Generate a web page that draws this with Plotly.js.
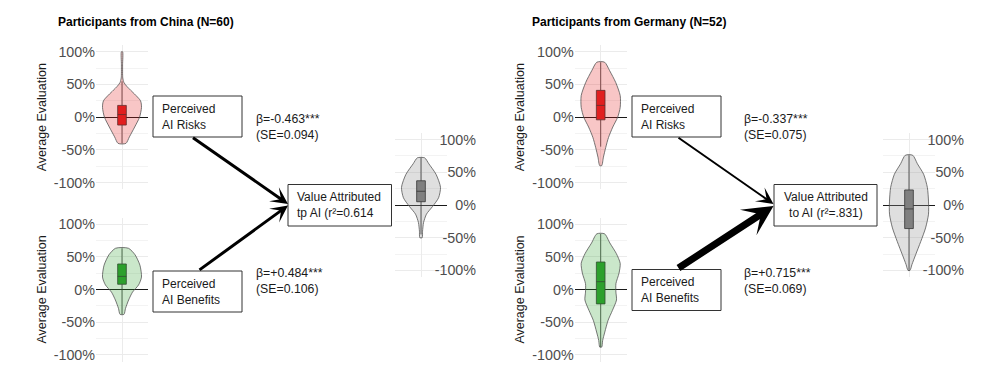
<!DOCTYPE html>
<html>
<head>
<meta charset="utf-8">
<script src="https://cdn.plot.ly/plotly-3.0.1.min.js"></script>
<style>
  html, body { margin: 0; padding: 0; background: #fff; }
  #plot { width: 997px; height: 389px; }
</style>
</head>
<body>
<div id="plot"></div>
<script>
// Ejes (valores en proporción, 1 = 100%)
const ticksValores = [-1, -0.5, 0, 0.5, 1];
const ticksTexto = ['-100%', '-50%', '0%', '50%', '100%'];
const ticksMenores = [-0.75, -0.25, 0.25, 0.75];

const titulos = ['Participants from China (N=60)', 'Participants from Germany (N=52)'];

// Perfiles de los violines: nivel y ancho relativo de la densidad
const riesgoCnNivel = [-0.40, -0.30, -0.15, 0.00, 0.15, 0.25, 0.41, 0.47, 0.53, 0.60, 0.80, 1.00];
const riesgoCnAncho = [0.20, 0.38, 0.65, 0.90, 1.00, 0.95, 0.45, 0.25, 0.10, 0.04, 0.03, 0.03];
const beneficioCnNivel = [-0.38, -0.29, -0.16, -0.04, 0.07, 0.19, 0.37, 0.53, 0.63];
const beneficioCnAncho = [0.10, 0.18, 0.34, 0.54, 0.85, 1.00, 0.92, 0.67, 0.33];
const valorCnNivel = [-0.50, -0.40, -0.27, -0.14, -0.02, 0.11, 0.27, 0.47, 0.63, 0.72];
const valorCnAncho = [0.06, 0.08, 0.13, 0.28, 0.60, 0.90, 1.00, 0.77, 0.40, 0.19];
const riesgoDeNivel = [-0.74, -0.61, -0.46, -0.31, -0.15, 0.00, 0.15, 0.33, 0.53, 0.71, 0.84];
const riesgoDeAncho = [0.05, 0.14, 0.26, 0.40, 0.62, 0.87, 1.00, 1.00, 0.77, 0.46, 0.20];
const beneficioDeNivel = [-0.88, -0.78, -0.65, -0.47, -0.32, -0.16, -0.04, 0.09, 0.25, 0.40, 0.55, 0.71, 0.85];
const beneficioDeAncho = [0.05, 0.10, 0.21, 0.38, 0.60, 0.81, 0.78, 0.78, 0.94, 1.00, 0.80, 0.47, 0.20];
const valorDeNivel = [-1.00, -0.91, -0.76, -0.56, -0.35, -0.14, 0.06, 0.27, 0.47, 0.63, 0.76];
const valorDeAncho = [0.05, 0.15, 0.34, 0.60, 0.85, 1.00, 1.00, 0.94, 0.75, 0.43, 0.19];

// Cajas (orden: riesgo CN, beneficio CN, valor CN, riesgo DE, beneficio DE, valor DE)
const cajaMin = [-0.40, -0.38, -0.45, -0.45, -0.88, -1.00];
const cajaQ1 = [-0.12, 0.08, 0.05, -0.04, -0.22, -0.36];
const cajaMediana = [0.04, 0.20, 0.21, 0.18, 0.12, -0.06];
const cajaQ3 = [0.18, 0.39, 0.37, 0.41, 0.42, 0.23];
const cajaMax = [0.55, 0.63, 0.72, 0.84, 0.85, 0.76];

// Modelo (orden: riesgo CN, beneficio CN, riesgo DE, beneficio DE)
const betas = [-0.463, 0.484, -0.337, 0.715];
const errores = [0.094, 0.106, 0.075, 0.069];
const nodosTexto = ['Perceived<br>AI Risks', 'Perceived<br>AI Benefits', 'Value Attributed<br>tp AI (r²=0.614',
                    'Perceived<br>AI Risks', 'Perceived<br>AI Benefits', 'Value Attributed<br>to AI (r²=.831)'];

// Estilo
const fuente = 'Liberation Sans, Arial, Helvetica, sans-serif';
const rellenos = ['rgba(227,26,28,0.25)', 'rgba(44,160,44,0.25)', 'rgba(150,150,150,0.3)'];
const cajasColor = ['#e02020', '#2ca02c', '#808080'];
const flechaAncho = [3, 3, 2, 7];
const flechaPunta = [0.95, 0.95, 1.4, 0.72];

const px = x => x / 997;
const py = y => 1 - y / 389;

// Posición de cada panel en píxeles [x0, x1, y0, y1]
const paneles = [
  [96, 148, 45.2, 189.2], [96, 148, 217.5, 361.5], [395, 447, 133, 277],
  [574.7, 626.7, 45.2, 189.2], [574.7, 626.7, 217.5, 361.5], [883, 935, 133, 277]
];
const perfiles = [
  [riesgoCnNivel, riesgoCnAncho], [beneficioCnNivel, beneficioCnAncho], [valorCnNivel, valorCnAncho],
  [riesgoDeNivel, riesgoDeAncho], [beneficioDeNivel, beneficioDeAncho], [valorDeNivel, valorDeAncho]
];

const violin = (nivel, ancho, n, relleno) => {
  const xs = ancho.map(a => a * 0.45).concat(ancho.slice().reverse().map(a => -a * 0.45));
  const ys = nivel.concat(nivel.slice().reverse());
  xs.push(xs[0]);
  ys.push(ys[0]);
  return {
    type: 'scatter', mode: 'lines', x: xs, y: ys, fill: 'toself', fillcolor: relleno,
    line: { color: '#555', width: 0.8, shape: 'spline', smoothing: 0.7 },
    xaxis: 'x' + n, yaxis: 'y' + n, hoverinfo: 'skip', showlegend: false
  };
};

const data = [];
const layout = {
  width: 997, height: 389,
  margin: { l: 0, r: 0, t: 0, b: 0 },
  paper_bgcolor: '#fff', plot_bgcolor: '#fff',
  font: { family: fuente, color: '#1a1a1a' },
  showlegend: false,
  shapes: [], annotations: []
};

paneles.forEach((p, i) => {
  const n = i + 1;
  const tipo = i % 3;
  const esValor = tipo === 2;
  data.push(violin(perfiles[i][0], perfiles[i][1], n, rellenos[tipo]));
  data.push({
    type: 'box', x: [0], q1: [cajaQ1[i]], median: [cajaMediana[i]], q3: [cajaQ3[i]],
    lowerfence: [cajaMin[i]], upperfence: [cajaMax[i]], width: 0.2, whiskerwidth: 0,
    fillcolor: cajasColor[tipo], line: { color: '#333', width: 0.8 }, boxpoints: false,
    xaxis: 'x' + n, yaxis: esValor ? 'y' + (i === 2 ? 7 : 8) : 'y' + n,
    hoverinfo: 'skip', showlegend: false
  });
  layout['xaxis' + n] = {
    domain: [px(p[0]), px(p[1])], range: [-0.6, 0.6], anchor: 'y' + n,
    tickvals: [0], showticklabels: false, showgrid: true, gridcolor: '#ebebeb',
    zeroline: false, showline: false, ticks: '', fixedrange: true
  };
  layout['yaxis' + n] = {
    domain: [py(p[3]), py(p[2])], range: [-1.1, 1.1], anchor: 'x' + n,
    tickvals: ticksValores, ticktext: ticksTexto, showticklabels: !esValor,
    tickfont: { size: 14.3, color: '#4d4d4d' },
    showgrid: true, gridcolor: '#ebebeb', gridwidth: 1,
    minor: { tickvals: ticksMenores, showgrid: true, gridcolor: '#f3f3f3', ticks: '' },
    zeroline: true, zerolinecolor: '#1a1a1a', zerolinewidth: 1,
    ticks: '', showline: false, fixedrange: true,
    title: esValor ? { text: '' } : { text: 'Average Evaluation', font: { size: 12.5, color: '#1a1a1a' }, standoff: 4 }
  };
  if (esValor) {
    // Eje de etiquetas a la derecha, alineadas a la derecha
    layout['yaxis' + (i === 2 ? 7 : 8)] = {
      overlaying: 'y' + n, side: 'right', anchor: 'free', position: px(p[1] + 32),
      ticklabelposition: 'inside', ticklabeloverflow: 'allow', range: [-1.1, 1.1],
      tickvals: ticksValores, ticktext: ticksTexto,
      tickfont: { size: 14.3, color: '#4d4d4d' },
      showgrid: false, zeroline: false, showline: false, ticks: '', fixedrange: true
    };
  }
});

// Títulos de los paneles
[56, 530].forEach((x, k) => {
  layout.annotations.push({
    text: '<b>' + titulos[k] + '</b>', xref: 'paper', yref: 'paper', x: px(x), y: py(22),
    xanchor: 'left', yanchor: 'middle', showarrow: false, font: { size: 12, color: '#000' }
  });
});

// Nodos del diagrama [x0, x1, y0, y1] en píxeles
const nodos = [
  [153, 242, 96, 137], [153, 242, 271, 312], [288, 391.5, 184.5, 226],
  [632, 721, 96, 137], [632, 721, 269.5, 310.5], [774, 877, 184.5, 226]
];
nodos.forEach((b, i) => {
  layout.shapes.push({
    type: 'rect', xref: 'paper', yref: 'paper', x0: px(b[0]), x1: px(b[1]), y0: py(b[3]), y1: py(b[2]),
    line: { color: '#333', width: 1 }, fillcolor: '#fff', layer: 'above'
  });
  const centrado = i === 5;
  layout.annotations.push({
    text: nodosTexto[i], xref: 'paper', yref: 'paper',
    x: centrado ? px((b[0] + b[1]) / 2) : px(b[0] + 8), y: py((b[2] + b[3]) / 2),
    xanchor: centrado ? 'center' : 'left', yanchor: 'middle', align: centrado ? 'center' : 'left',
    showarrow: false, borderpad: 0, font: { size: 12, color: '#1a1a1a' }
  });
});

// Coeficientes y flechas
const coefPos = [[255, 126.7], [255, 281], [742.5, 126.7], [742.5, 281]];
const flechas = [
  [191.5, 136.7, 288, 204], [198, 271, 288, 205.5],
  [677, 136.7, 773.5, 204], [677, 269, 773.5, 206]
];
betas.forEach((b, k) => {
  layout.annotations.push({
    text: 'β=' + (b > 0 ? '+' : '') + b.toFixed(3) + '***<br>(SE=' + errores[k].toFixed(3) + ')',
    xref: 'paper', yref: 'paper', x: px(coefPos[k][0]), y: py(coefPos[k][1]),
    xanchor: 'left', yanchor: 'middle', align: 'left', showarrow: false, borderpad: 0,
    font: { size: 12.3, color: '#1a1a1a' }
  });
  const f = flechas[k];
  layout.annotations.push({
    text: '', xref: 'paper', yref: 'paper', x: px(f[2]), y: py(f[3]),
    ax: f[0] - f[2], ay: f[1] - f[3], showarrow: true, arrowhead: 3,
    arrowwidth: flechaAncho[k], arrowsize: flechaPunta[k], arrowcolor: '#000', standoff: 0
  });
});

Plotly.newPlot('plot', data, layout, { displayModeBar: false, staticPlot: true });
</script>
</body>
</html>
